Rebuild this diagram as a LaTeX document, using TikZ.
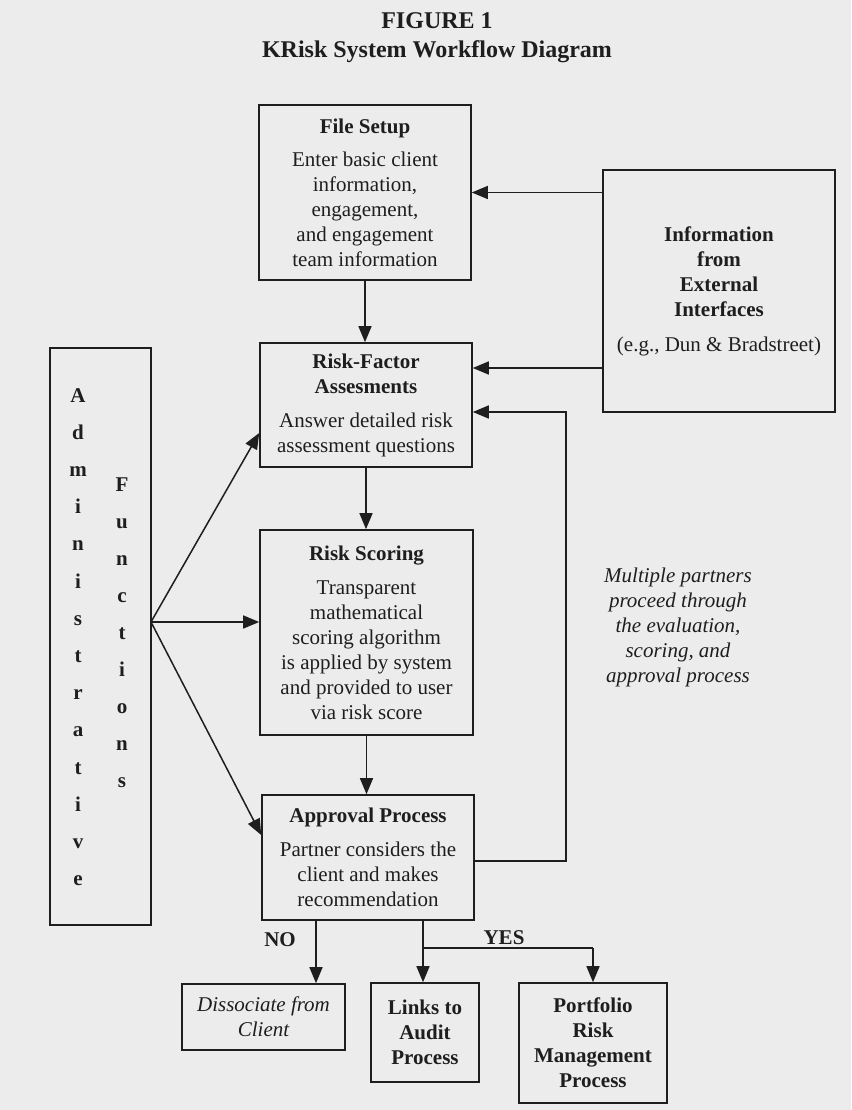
\documentclass[tikz,border=0pt]{standalone}
\usepackage{fontspec}
\setmainfont{Liberation Serif}
\usetikzlibrary{arrows.meta}
\definecolor{bg}{HTML}{ECECEC}
\definecolor{ink}{HTML}{1E1E1E}
\begin{document}
\begin{tikzpicture}[x=1pt,y=-1pt,
  box/.style={draw=ink, line width=1.6pt, inner sep=0pt, align=center, text=ink, font=\fontsize{21}{25}\selectfont},
  arr/.style={draw=ink, line width=1.5pt, -{Triangle[length=16pt,width=13pt]}},
  ln/.style={draw=ink, line width=1.5pt},
  lbl/.style={text=ink, inner sep=0pt, font=\fontsize{21}{25}\selectfont\bfseries},
  itl/.style={text=ink, inner sep=0pt, align=center, font=\fontsize{21}{25}\selectfont\itshape},
]
\fill[bg] (0,0) rectangle (851,1110);
\useasboundingbox (0,0) rectangle (851,1110);

% title
\node[lbl, font=\fontsize{24}{29}\selectfont\bfseries, align=center] (title) at (437,38) {FIGURE 1\\KRisk System Workflow Diagram};

% main boxes
\node[box, minimum width=212pt, minimum height=175pt] (fs) at (365,192.5)
  {\textbf{File Setup}\\[8pt] Enter basic client\\ information,\\ engagement,\\ and engagement\\ team information};
\node[box, minimum width=232pt, minimum height=242pt] (info) at (719,291)
  {\textbf{Information}\\ \textbf{from}\\ \textbf{External}\\ \textbf{Interfaces}\\[10pt] (e.g., Dun \& Bradstreet)};
\node[box, minimum width=212pt, minimum height=124pt] (rf) at (366,405)
  {\textbf{Risk-Factor}\\ \textbf{Assesments}\\[9pt] Answer detailed risk\\ assessment questions};
\node[box, minimum width=213pt, minimum height=205pt] (rs) at (366.5,632.5)
  {\textbf{Risk Scoring}\\[9pt] Transparent\\ mathematical\\ scoring algorithm\\ is applied by system\\ and provided to user\\ via risk score};
\node[box, minimum width=212pt, minimum height=125pt] (ap) at (368,857.5)
  {\textbf{Approval Process}\\[9pt] Partner considers the\\ client and makes\\ recommendation};

% administrative functions
\node[box, minimum width=101pt, minimum height=577pt] (adm) at (100.5,636.5) {};
\foreach \l [count=\i] in {A,d,m,i,n,i,s,t,r,a,t,i,v,e}
  \node[lbl, anchor=base] (adL\i) at (78,{402+37.2*(\i-1)}) {\l};
\foreach \l [count=\i] in {F,u,n,c,t,i,o,n,s}
  \node[lbl, anchor=base] (adR\i) at (122,{491+37.1*(\i-1)}) {\l};

% outcome boxes
\node[box, font=\fontsize{21}{25}\selectfont\itshape, minimum width=163pt, minimum height=66pt] (dis) at (263.5,1017)
  {Dissociate from\\ Client};
\node[box, font=\fontsize{21}{25}\selectfont\bfseries, minimum width=108pt, minimum height=99pt] (links) at (425,1032.5)
  {Links to\\ Audit\\ Process};
\node[box, font=\fontsize{21}{25}\selectfont\bfseries, minimum width=148pt, minimum height=120pt] (port) at (593,1043)
  {Portfolio\\ Risk\\ Management\\ Process};

% side note
\node[itl] (mp) at (678,627) {Multiple partners\\ proceed through\\ the evaluation,\\ scoring, and\\ approval process};

% main flow
\draw[arr] (fs.south) -- (fs.south |- rf.north);
\draw[arr] (rf.south) -- (rf.south |- rs.north);
\draw[arr] (rs.south) -- (rs.south |- ap.north);

% external info
\draw[arr] (info.west |- fs.east) -- (fs.east);
\coordinate (i2) at (0,368);
\draw[arr] (info.west |- i2) -- (rf.east |- i2);

% feedback loop
\coordinate (fbA) at (566,861);
\coordinate (fbB) at (566,412);
\draw[arr] (ap.east |- fbA) -- (fbA) -- (fbB) -- (rf.east |- fbB);

% admin fan
\coordinate (fan) at (151,622);
\draw[arr] (fan) -- ([yshift=-28pt]rf.west);
\draw[arr] (fan) -- (rs.west |- fan);
\draw[arr] (fan) -- ([yshift=22.5pt]ap.west);

% NO / YES
\coordinate (no) at (316,0);
\draw[arr] (ap.south -| no) -- (dis.north -| no);
\coordinate (yA) at (423,948);
\draw[ln] (ap.south -| yA) -- (yA) -- (yA -| port.north);
\draw[arr] (yA) -- (yA |- links.north);
\draw[arr] (yA -| port.north) -- (port.north);
\node[lbl] (nolbl) at (280,940) {NO};
\node[lbl] (yeslbl) at (504,938) {YES};
\end{tikzpicture}
\end{document}
